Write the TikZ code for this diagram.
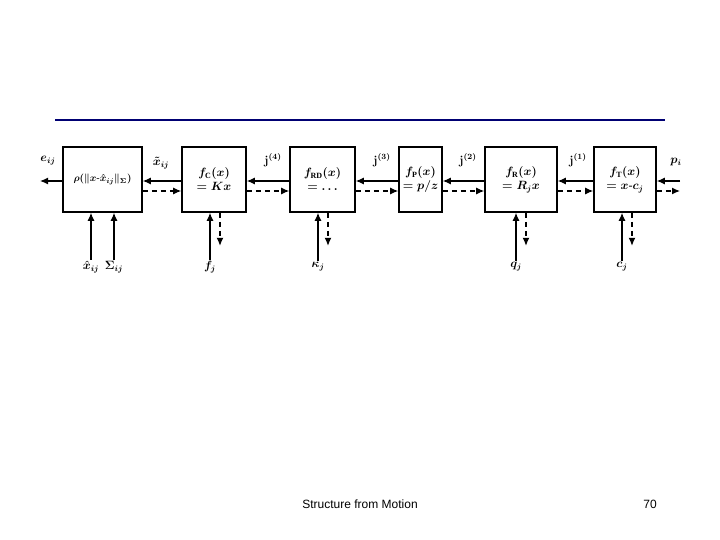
\documentclass[tikz,border=0pt]{standalone}
\usepackage{fontspec}
\setmainfont{Liberation Serif}
\newfontfamily\footfont{Liberation Sans}
\usepackage{amsmath}
\usepackage{bm}
\usetikzlibrary{arrows.meta,positioning}
\begin{document}
\begin{tikzpicture}
      [x=1pt, y=-1pt,
      block/.style={draw, line width=1.6pt, rectangle, inner sep=0pt, font=\large\boldmath, align=center},
      flow/.style={-{Latex[length=8pt,width=7pt]}, line width=1.2pt},
      back/.style={flow, dash pattern=on 5pt off 4pt},
      lbl/.style={font=\large\boldmath, inner sep=1pt},
      ]
      \useasboundingbox (0,0) rectangle (720,540);
      \draw[line width=2.5pt, blue!45!black] (55,120) -- (665,120);

      % blocks
      \node[block, minimum width=79pt, minimum height=65pt, font=\normalsize\boldmath] (rho) at (102.5,179.5) {$\rho(\|x\text{-}\hat{x}_{ij}\|_{\Sigma})$};
      \node[block, minimum width=64pt, minimum height=65pt] (fc) at (214,179.5) {$f_{\mathrm{C}}(x)$\\$=Kx$};
      \node[block, minimum width=65pt, minimum height=65pt] (frd) at (322.5,179.5) {$f_{\mathrm{RD}}(x)$\\$=\ldots$};
      \node[block, minimum width=43pt, minimum height=65pt] (fp) at (420.5,179.5) {$f_{\mathrm{P}}(x)$\\$=p/z$};
      \node[block, minimum width=72pt, minimum height=65pt] (fr) at (521,179.5) {$f_{\mathrm{R}}(x)$\\$=R_jx$};
      \node[block, minimum width=62pt, minimum height=65pt] (ft) at (625,179.5) {$f_{\mathrm{T}}(x)$\\$=x\text{-}c_j$};

      % free ends
      \coordinate (out) at (40,181);
      \coordinate (in) at (680,181);
      \coordinate (inb) at (680,191);

      % forward (solid) and backward (dashed) chain
      \draw[flow] (in) -- (in -| ft.east);
      \draw[back] (ft.east |- inb) -- (inb);
      \foreach \a/\b in {ft/fr, fr/fp, fp/frd, frd/fc, fc/rho}{
        \draw[flow] (\a.west |- in) -- (\b.east |- in);
        \draw[back] (\b.east |- inb) -- (\a.west |- inb);
      }
      \draw[flow] (rho.west |- in) -- (out);

      % top labels
      \node[lbl] (eij) at (48,161) {$e_{ij}$};
      \node[lbl] (xt) at (161,163) {$\tilde{x}_{ij}$};
      \node[lbl] (y4) at (273,160) {$\mathbf{j}^{(4)}$};
      \node[lbl] (y3) at (382,160) {$\mathbf{j}^{(3)}$};
      \node[lbl] (y2) at (468,160) {$\mathbf{j}^{(2)}$};
      \node[lbl] (y1) at (578,160) {$\mathbf{j}^{(1)}$};
      \node[lbl] (pi) at (676,162) {$p_i$};

      % bottom labels and arrows
      \node[lbl] (xh) at (91,267) {$\hat{x}_{ij}$};
      \node[lbl] (sg) at (114,267) {$\Sigma_{ij}$};
      \node[lbl] (fj) at (210,267) {$f_j$};
      \node[lbl] (kj) at (318,267) {$\kappa_j$};
      \node[lbl] (qj) at (516,267) {$q_j$};
      \node[lbl] (cj) at (622,267) {$c_j$};
      \draw[flow] (xh.north) -- (xh.north |- rho.south);
      \draw[flow] (sg.north) -- (sg.north |- rho.south);
      \foreach \n/\b in {fj/fc, kj/frd, qj/fr, cj/ft}{
        \draw[flow] (\n.north) -- (\n.north |- \b.south);
        \draw[back] ([xshift=10pt]\n.north |- \b.south) -- ++(0,33);
      }

      % footer
      \node[font=\footfont\large] (title) at (360,504) {Structure from Motion};
      \node[font=\footfont\large] (page) at (650,504) {70};
\end{tikzpicture}
\end{document}
